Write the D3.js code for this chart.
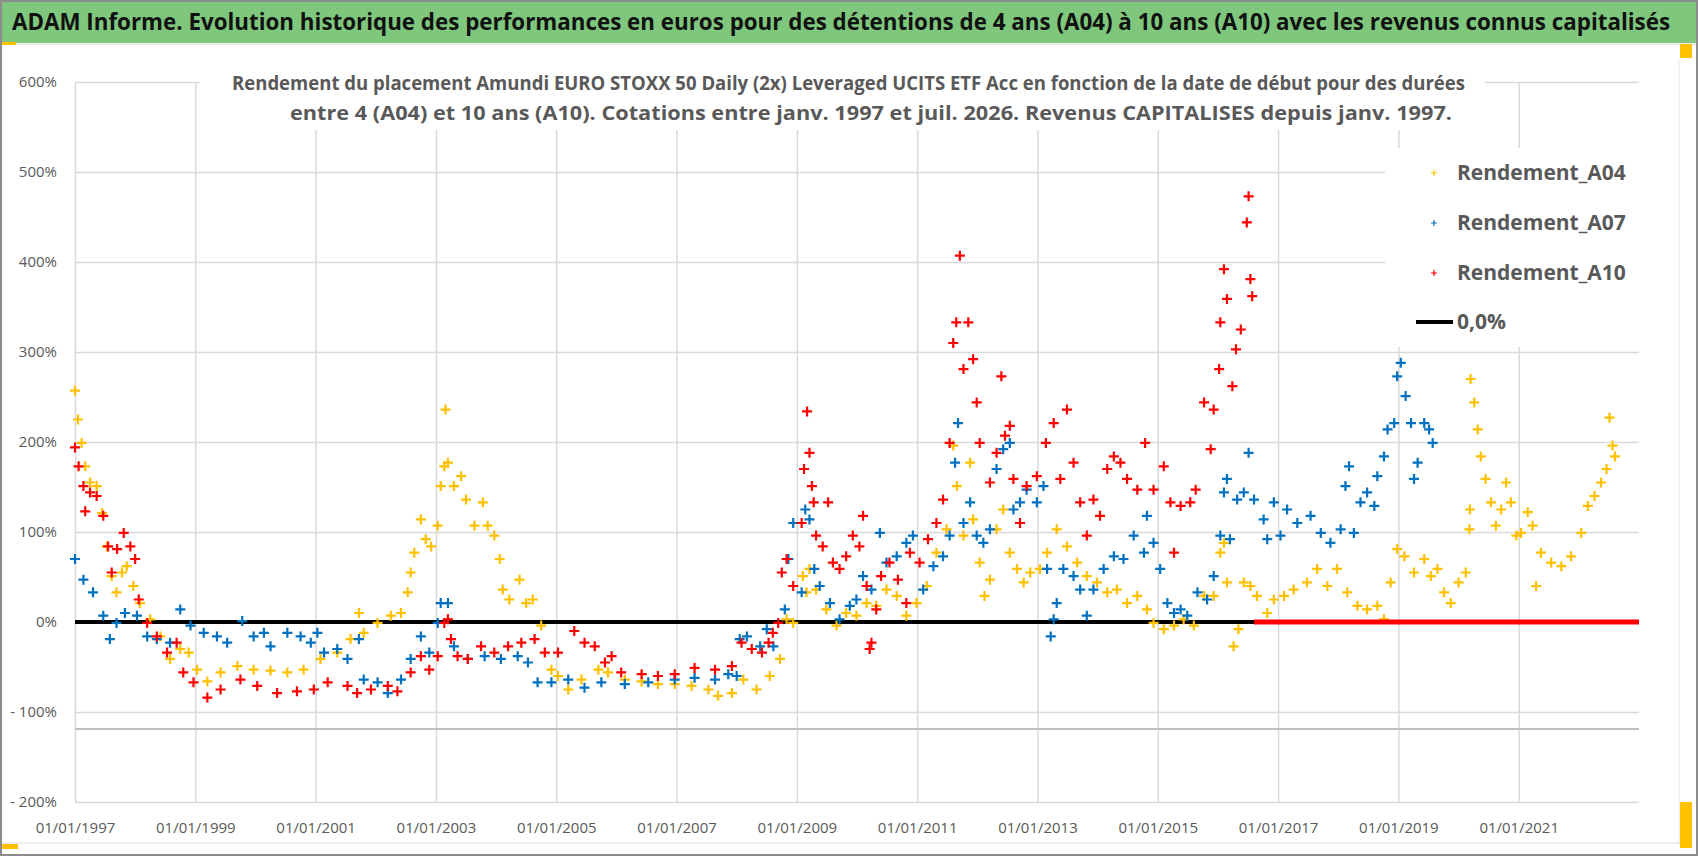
<!doctype html>
<html lang="fr">
<head>
<meta charset="utf-8">
<title>ADAM Informe</title>
<script src="https://cdn.jsdelivr.net/npm/d3@7"></script>
<style>
  body { margin: 0; background: #fff; }
  svg { display: block; }
  .tick text { fill: #595959; font-family: "Liberation Sans Narrow", "Open Sans", sans-serif; font-size: 15px; }
</style>
</head>
<body>
<div id="chart"></div>
<script>
// [année décimale, rendement %]
var a04 = [[1997.0,257],[1997.05,225],[1997.11,199],[1997.17,173],[1997.25,155],[1997.36,151],[1997.45,121],[1997.53,84],[1997.61,51],[1997.69,33],[1997.78,55],[1997.86,62],[1997.97,40],[1998.08,21],[1998.25,3],[1998.42,-16],[1998.58,-41],[1998.75,-30],[1998.89,-34],[1999.03,-53],[1999.2,-66],[1999.42,-56],[1999.7,-49],[1999.97,-53],[2000.25,-54],[2000.53,-56],[2000.8,-53],[2001.08,-41],[2001.36,-34],[2001.58,-19],[2001.72,10],[2001.8,-12],[2002.03,-1],[2002.25,7],[2002.42,10],[2002.53,33],[2002.58,55],[2002.64,77],[2002.75,114],[2002.83,92],[2002.92,84],[2003.03,107],[2003.08,151],[2003.14,173],[2003.16,236],[2003.2,177],[2003.3,151],[2003.42,162],[2003.5,136],[2003.64,107],[2003.78,133],[2003.86,107],[2003.97,96],[2004.06,70],[2004.11,36],[2004.22,25],[2004.39,47],[2004.5,21],[2004.61,25],[2004.75,-4],[2004.92,-53],[2005.03,-60],[2005.2,-75],[2005.42,-64],[2005.7,-53],[2005.86,-56],[2006.14,-64],[2006.42,-66],[2006.69,-69],[2006.97,-69],[2007.25,-71],[2007.53,-75],[2007.69,-82],[2007.92,-79],[2008.11,-64],[2008.33,-75],[2008.55,-60],[2008.72,-41],[2008.83,3],[2008.94,-1],[2009.1,51],[2009.16,33],[2009.21,59],[2009.32,36],[2009.49,14],[2009.66,-4],[2009.82,10],[2009.99,7],[2010.16,21],[2010.32,18],[2010.49,36],[2010.66,29],[2010.82,7],[2010.99,21],[2011.16,40],[2011.32,77],[2011.49,103],[2011.6,196],[2011.66,151],[2011.77,96],[2011.88,177],[2011.93,114],[2012.04,66],[2012.12,29],[2012.21,47],[2012.32,103],[2012.43,125],[2012.54,77],[2012.66,59],[2012.77,44],[2012.88,55],[2013.04,59],[2013.16,77],[2013.32,103],[2013.49,84],[2013.66,66],[2013.82,51],[2013.99,44],[2014.16,33],[2014.32,36],[2014.49,21],[2014.66,29],[2014.82,14],[2014.93,-1],[2015.1,-8],[2015.27,-4],[2015.43,3],[2015.6,-4],[2015.77,29],[2015.93,29],[2016.04,77],[2016.1,88],[2016.15,44],[2016.26,-27],[2016.34,-8],[2016.43,44],[2016.54,40],[2016.65,29],[2016.82,10],[2016.93,25],[2017.1,29],[2017.26,36],[2017.48,44],[2017.65,59],[2017.82,40],[2017.98,59],[2018.15,33],[2018.32,18],[2018.48,14],[2018.65,18],[2018.76,3],[2018.87,44],[2018.98,81],[2019.1,73],[2019.26,55],[2019.43,70],[2019.54,51],[2019.65,59],[2019.76,33],[2019.87,21],[2020.0,44],[2020.12,55],[2020.18,103],[2020.19,125],[2020.2,270],[2020.26,244],[2020.32,214],[2020.37,184],[2020.45,159],[2020.54,133],[2020.62,107],[2020.71,125],[2020.79,155],[2020.87,133],[2020.96,96],[2021.04,99],[2021.15,122],[2021.23,107],[2021.29,40],[2021.37,77],[2021.54,66],[2021.71,62],[2021.87,73],[2022.04,99],[2022.15,129],[2022.26,140],[2022.37,155],[2022.46,170],[2022.51,227],[2022.56,196],[2022.6,184]];

var a07 = [[1997.0,70],[1997.14,47],[1997.3,33],[1997.47,7],[1997.58,-19],[1997.69,-1],[1997.83,10],[1998.03,7],[1998.2,-16],[1998.36,-19],[1998.58,-23],[1998.75,14],[1998.92,-4],[1999.14,-12],[1999.36,-16],[1999.53,-23],[1999.78,1],[1999.97,-16],[2000.14,-12],[2000.25,-27],[2000.53,-12],[2000.75,-16],[2000.92,-23],[2001.03,-12],[2001.14,-34],[2001.36,-30],[2001.53,-41],[2001.72,-19],[2001.8,-64],[2002.03,-67],[2002.2,-79],[2002.42,-64],[2002.58,-41],[2002.75,-16],[2002.89,-34],[2003.03,-1],[2003.08,21],[2003.2,21],[2003.3,-27],[2003.53,-41],[2003.81,-38],[2004.08,-41],[2004.36,-38],[2004.53,-45],[2004.69,-67],[2004.92,-67],[2005.2,-64],[2005.47,-73],[2005.75,-67],[2006.14,-69],[2006.53,-67],[2006.97,-64],[2007.3,-62],[2007.64,-64],[2007.86,-58],[2008.0,-60],[2008.05,-19],[2008.17,-16],[2008.39,-27],[2008.5,-8],[2008.61,-27],[2008.8,14],[2008.86,70],[2008.94,110],[2009.08,33],[2009.14,125],[2009.21,114],[2009.29,59],[2009.38,40],[2009.55,21],[2009.71,3],[2009.88,18],[2009.99,25],[2010.1,51],[2010.24,36],[2010.38,99],[2010.49,66],[2010.66,73],[2010.82,88],[2010.93,96],[2011.1,36],[2011.27,62],[2011.43,73],[2011.54,96],[2011.63,177],[2011.68,221],[2011.77,110],[2011.88,133],[2011.99,96],[2012.1,88],[2012.21,103],[2012.32,170],[2012.43,192],[2012.54,199],[2012.6,125],[2012.71,133],[2012.82,147],[2012.99,133],[2013.1,151],[2013.16,59],[2013.22,-16],[2013.27,3],[2013.32,21],[2013.43,59],[2013.6,51],[2013.71,36],[2013.82,7],[2013.93,36],[2014.1,59],[2014.27,73],[2014.43,70],[2014.6,96],[2014.77,77],[2014.82,118],[2014.93,88],[2015.04,59],[2015.16,21],[2015.27,10],[2015.38,14],[2015.49,7],[2015.66,33],[2015.82,25],[2015.93,51],[2016.04,96],[2016.1,144],[2016.15,159],[2016.2,92],[2016.32,136],[2016.43,144],[2016.51,188],[2016.6,136],[2016.76,114],[2016.82,92],[2016.93,133],[2017.04,96],[2017.15,125],[2017.32,110],[2017.54,118],[2017.71,99],[2017.87,88],[2018.04,103],[2018.12,151],[2018.18,173],[2018.26,99],[2018.37,133],[2018.48,144],[2018.6,129],[2018.65,162],[2018.76,184],[2018.82,214],[2018.93,221],[2018.98,273],[2019.04,288],[2019.12,251],[2019.21,221],[2019.26,159],[2019.32,177],[2019.43,221],[2019.51,214],[2019.57,199]];

var a10 = [[1997.0,194],[1997.06,173],[1997.14,151],[1997.17,123],[1997.25,144],[1997.36,140],[1997.47,118],[1997.55,84],[1997.61,55],[1997.7,81],[1997.81,99],[1997.92,84],[1998.0,70],[1998.06,25],[1998.2,-1],[1998.36,-16],[1998.53,-34],[1998.69,-23],[1998.8,-56],[1998.97,-67],[1999.2,-84],[1999.42,-75],[1999.75,-64],[2000.03,-71],[2000.36,-79],[2000.69,-77],[2000.97,-75],[2001.2,-67],[2001.53,-71],[2001.69,-79],[2001.92,-75],[2002.2,-71],[2002.36,-77],[2002.58,-56],[2002.75,-38],[2002.89,-53],[2003.03,-38],[2003.14,-1],[2003.2,3],[2003.25,-19],[2003.36,-38],[2003.53,-41],[2003.75,-27],[2003.97,-34],[2004.2,-27],[2004.42,-23],[2004.64,-19],[2004.81,-34],[2005.03,-34],[2005.3,-10],[2005.47,-23],[2005.64,-27],[2005.81,-45],[2005.92,-38],[2006.08,-56],[2006.42,-58],[2006.69,-60],[2006.97,-58],[2007.3,-51],[2007.64,-53],[2007.92,-49],[2008.08,-23],[2008.25,-30],[2008.42,-34],[2008.53,-23],[2008.6,-12],[2008.69,-1],[2008.75,55],[2008.83,70],[2008.94,40],[2009.08,110],[2009.12,170],[2009.17,234],[2009.21,188],[2009.25,151],[2009.28,133],[2009.32,96],[2009.43,84],[2009.52,133],[2009.6,66],[2009.71,59],[2009.82,73],[2009.93,96],[2010.04,84],[2010.1,118],[2010.16,40],[2010.21,-30],[2010.24,-23],[2010.32,14],[2010.4,51],[2010.54,66],[2010.68,47],[2010.82,21],[2010.88,77],[2011.04,66],[2011.18,92],[2011.32,110],[2011.43,136],[2011.54,199],[2011.6,310],[2011.65,333],[2011.71,407],[2011.77,281],[2011.85,333],[2011.93,292],[2011.99,244],[2012.04,199],[2012.21,155],[2012.32,188],[2012.4,273],[2012.46,207],[2012.54,218],[2012.6,159],[2012.71,110],[2012.82,151],[2012.99,162],[2013.14,199],[2013.27,221],[2013.38,159],[2013.49,236],[2013.6,177],[2013.71,133],[2013.82,96],[2013.93,136],[2014.04,118],[2014.16,170],[2014.27,184],[2014.38,177],[2014.49,159],[2014.66,147],[2014.79,199],[2014.93,147],[2015.1,173],[2015.21,133],[2015.27,77],[2015.38,129],[2015.54,133],[2015.63,147],[2015.77,244],[2015.88,192],[2015.93,236],[2016.02,281],[2016.04,333],[2016.1,392],[2016.15,359],[2016.24,262],[2016.3,303],[2016.38,325],[2016.48,444],[2016.51,473],[2016.54,381],[2016.57,362]];

var a10ZeroSpan = [2016.6, 2023.0];
var yTicks = [600, 500, 400, 300, 200, 100, 0, -100, -200];
var xTicks = [1997, 1999, 2001, 2003, 2005, 2007, 2009, 2011, 2013, 2015, 2017, 2019, 2021];
var seriesNames = ["Rendement_A04", "Rendement_A07", "Rendement_A10"];
var seriesColors = ["#FFC000", "#0070C0", "#FF0000"];

var W = 1698, H = 856;
var font = '"Liberation Sans Narrow", "Open Sans", sans-serif';
var svg = d3.select("#chart").append("svg").attr("width", W).attr("height", H);

// cadre et bandeau
svg.append("rect").attr("x", 1).attr("y", 1).attr("width", W - 2).attr("height", H - 2)
  .attr("fill", "#fff").attr("stroke", "#8c8c8c").attr("stroke-width", 2);
svg.append("rect").attr("x", 2).attr("y", 2).attr("width", W - 4).attr("height", 41).attr("fill", "#7ec77d");
svg.append("line").attr("x1", 2).attr("x2", W - 2).attr("y1", 44).attr("y2", 44).attr("stroke", "#d9d9d9");
svg.append("rect").attr("x", 2).attr("y", 42).attr("width", 14).attr("height", 3).attr("fill", "#FFC000");
svg.append("rect").attr("x", 2).attr("y", 844).attr("width", 16).attr("height", 5).attr("fill", "#FFC000");
svg.append("rect").attr("x", 1680).attr("y", 802).attr("width", 12).attr("height", 46).attr("fill", "#FFC000");
svg.append("rect").attr("x", 1680).attr("y", 44).attr("width", 12).attr("height", 14).attr("fill", "#FFC000");
svg.append("line").attr("x1", 2).attr("x2", 1680).attr("y1", 843).attr("y2", 843).attr("stroke", "#d9d9d9");
svg.append("line").attr("x1", 1679).attr("x2", 1679).attr("y1", 58).attr("y2", 843).attr("stroke", "#e6e6e6");

svg.append("text").attr("x", 12).attr("y", 30).attr("textLength", 1658).attr("lengthAdjust", "spacingAndGlyphs")
  .attr("font-family", font).attr("font-weight", "bold").attr("font-size", 23).attr("fill", "#111")
  .text("ADAM Informe. Evolution historique des performances en euros pour des détentions de 4 ans (A04) à 10 ans (A10) avec les revenus connus capitalisés");

var x = d3.scaleLinear().domain([1997, 2023]).range([75, 1639]);
var y = d3.scaleLinear().domain([-200, 600]).range([802, 82]);

// grille
svg.append("g").call(d3.axisLeft(y).tickValues(yTicks).tickSize(-(1639 - 75))
    .tickFormat(function(d) { return d < 0 ? "- " + (-d) + "%" : d + "%"; }))
  .attr("transform", "translate(75,0)")
  .call(function(g) {
    g.select(".domain").attr("stroke", "#d9d9d9");
    g.selectAll(".tick line").attr("stroke", "#d9d9d9").attr("stroke-width", 1.5);
    g.selectAll(".tick text").attr("x", -18);
  });
svg.append("g").call(d3.axisBottom(x).tickValues(xTicks).tickSize(-(802 - 82))
    .tickFormat(function(d) { return "01/01/" + d; }))
  .attr("transform", "translate(0,802)")
  .call(function(g) {
    g.select(".domain").remove();
    g.selectAll(".tick line").attr("stroke", "#d9d9d9").attr("stroke-width", 1.5);
    g.selectAll(".tick text").attr("y", 20);
  });
svg.append("line").attr("x1", 75).attr("x2", 1639).attr("y1", y(-119)).attr("y2", y(-119))
  .attr("stroke", "#bfbfbf").attr("stroke-width", 2);

// sous-titre
svg.append("rect").attr("x", 200).attr("y", 62).attr("width", 1285).attr("height", 68).attr("fill", "#fff");
var sub = svg.append("text").attr("font-family", font).attr("font-weight", "bold").attr("font-size", 20).attr("fill", "#595959");
sub.append("tspan").attr("x", 232).attr("y", 90).attr("textLength", 1233).attr("lengthAdjust", "spacingAndGlyphs")
  .text("Rendement du placement Amundi EURO STOXX 50 Daily (2x) Leveraged UCITS ETF Acc en fonction de la date de début pour des durées");
sub.append("tspan").attr("x", 290).attr("y", 120).attr("textLength", 1162).attr("lengthAdjust", "spacingAndGlyphs")
  .text("entre 4 (A04) et 10 ans (A10). Cotations entre janv. 1997 et juil. 2026. Revenus CAPITALISES depuis janv. 1997.");

// ligne 0 %
svg.append("line").attr("x1", x(1997)).attr("x2", x(2023)).attr("y1", y(0)).attr("y2", y(0))
  .attr("stroke", "#000").attr("stroke-width", 4);

var plus = "M-5,0H5M0,-5V5";
[a04, a07, a10].forEach(function(data, i) {
  svg.append("g").selectAll("path").data(data).enter().append("path")
    .attr("d", plus)
    .attr("transform", function(d) { return "translate(" + x(d[0]) + "," + y(d[1]) + ")"; })
    .attr("stroke", seriesColors[i]).attr("stroke-width", 2.2).attr("fill", "none");
});
svg.append("line").attr("x1", x(a10ZeroSpan[0])).attr("x2", x(a10ZeroSpan[1])).attr("y1", y(0)).attr("y2", y(0))
  .attr("stroke", "#FF0000").attr("stroke-width", 5);

// légende
svg.append("rect").attr("x", 1385).attr("y", 148).attr("width", 293).attr("height", 199).attr("fill", "#fff");
var lg = svg.append("g").attr("font-family", font).attr("font-size", 21).attr("font-weight", "bold").attr("fill", "#595959");
seriesNames.forEach(function(n, i) {
  var ly = 173 + i * 50;
  lg.append("path").attr("d", "M-3,0H3M0,-3V3").attr("transform", "translate(1434," + ly + ")")
    .attr("stroke", seriesColors[i]).attr("stroke-width", 1.2);
  lg.append("text").attr("x", 1457).attr("y", ly + 7).text(n);
});
lg.append("line").attr("x1", 1416).attr("x2", 1453).attr("y1", 322).attr("y2", 322).attr("stroke", "#000").attr("stroke-width", 4);
lg.append("text").attr("x", 1457).attr("y", 329).text("0,0%");
</script>
</body>
</html>
